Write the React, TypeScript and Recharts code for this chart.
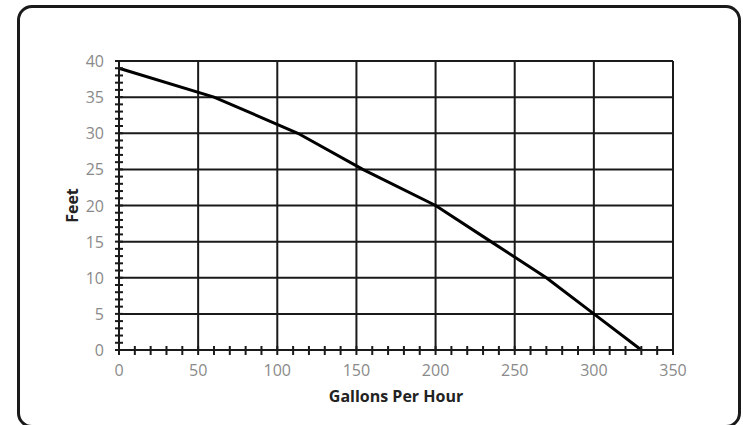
import { Label, Line, LineChart, ReferenceLine, XAxis, YAxis } from "recharts";

// pump curve: flow (gallons per hour) vs head (feet)
const gph = [0, 60, 113, 154, 200, 235, 270, 300, 330];
const feet = [39, 35, 30, 25, 20, 15, 10, 5, 0];

const xMajor = [0, 50, 100, 150, 200, 250, 300, 350];
const yMajor = [0, 5, 10, 15, 20, 25, 30, 35, 40];
const xMinor = Array.from({ length: 36 }, (_, i) => i * 10);
const yMinor = Array.from({ length: 41 }, (_, i) => i);

const data = gph.map((g, i) => ({ gph: g, feet: feet[i] }));

const FONT = "'Open Sans', 'DejaVu Sans', sans-serif";
const LABEL_GRAY = "#8a8a8a";
const INK = "#1a1a1a";

function XTick(props: any) {
  const { x, y, payload } = props;
  const v = payload.value;
  return (
    <g>
      <line x1={x} x2={x} y1={y - 4} y2={y + 5} stroke={INK} strokeWidth={2} />
      {v % 50 === 0 && (
        <text
          x={x}
          y={y + 26}
          textAnchor="middle"
          fill={LABEL_GRAY}
          fontSize={16}
          fontFamily={FONT}
        >
          {v}
        </text>
      )}
    </g>
  );
}

function YTick(props: any) {
  const { x, y, payload } = props;
  const v = payload.value;
  return (
    <g>
      <line x1={x - 4} x2={x + 4} y1={y} y2={y} stroke={INK} strokeWidth={2} />
      {v % 5 === 0 && (
        <text
          x={x - 15}
          y={y + 6}
          textAnchor="end"
          fill={LABEL_GRAY}
          fontSize={16}
          fontFamily={FONT}
        >
          {v}
        </text>
      )}
    </g>
  );
}

export default function App() {
  return (
    <div
      style={{
        position: "absolute",
        left: 0,
        top: 0,
        width: 743,
        height: 425,
        overflow: "hidden",
        background: "#fff",
      }}
    >
      <div
        style={{
          position: "absolute",
          left: 17,
          top: 5,
          width: 724,
          height: 423,
          boxSizing: "border-box",
          border: `3px solid ${INK}`,
          borderRadius: 15,
        }}
      />
      <LineChart
        width={743}
        height={425}
        data={data}
        margin={{ top: 61, right: 70, bottom: 0, left: 0 }}
        style={{ position: "absolute", left: 0, top: 0 }}
      >
        {xMajor.slice(1).map((v) => (
          <ReferenceLine key={"x" + v} x={v} stroke={INK} strokeWidth={2} />
        ))}
        {yMajor.slice(1).map((v) => (
          <ReferenceLine key={"y" + v} y={v} stroke={INK} strokeWidth={2} />
        ))}
        <XAxis
          dataKey="gph"
          type="number"
          domain={[0, 350]}
          ticks={xMinor}
          interval={0}
          height={75}
          tickSize={0}
          tickMargin={0}
          tickLine={false}
          axisLine={{ stroke: INK, strokeWidth: 2 }}
          tick={<XTick />}
        >
          <Label
            content={(p: any) => {
              const vb = p.viewBox;
              return (
                <text
                  x={vb.x + vb.width / 2}
                  y={vb.y + 52}
                  textAnchor="middle"
                  fontFamily={FONT}
                  fontWeight={700}
                  fontSize={16}
                  fill="#222"
                >
                  Gallons Per Hour
                </text>
              );
            }}
          />
        </XAxis>
        <YAxis
          type="number"
          domain={[0, 40]}
          ticks={yMinor}
          interval={0}
          width={119}
          tickSize={0}
          tickMargin={0}
          tickLine={false}
          axisLine={{ stroke: INK, strokeWidth: 2 }}
          tick={<YTick />}
        >
          <Label
            content={(p: any) => {
              const vb = p.viewBox;
              const cx = 72;
              const cy = vb.y + vb.height / 2;
              return (
                <text
                  x={cx}
                  y={cy}
                  transform={`rotate(-90 ${cx} ${cy})`}
                  textAnchor="middle"
                  dominantBaseline="central"
                  fontFamily={FONT}
                  fontWeight={700}
                  fontSize={16}
                  fill="#222"
                >
                  Feet
                </text>
              );
            }}
          />
        </YAxis>
        <Line
          dataKey="feet"
          type="linear"
          stroke="#000"
          strokeWidth={3}
          dot={false}
          isAnimationActive={false}
        />
      </LineChart>
    </div>
  );
}
